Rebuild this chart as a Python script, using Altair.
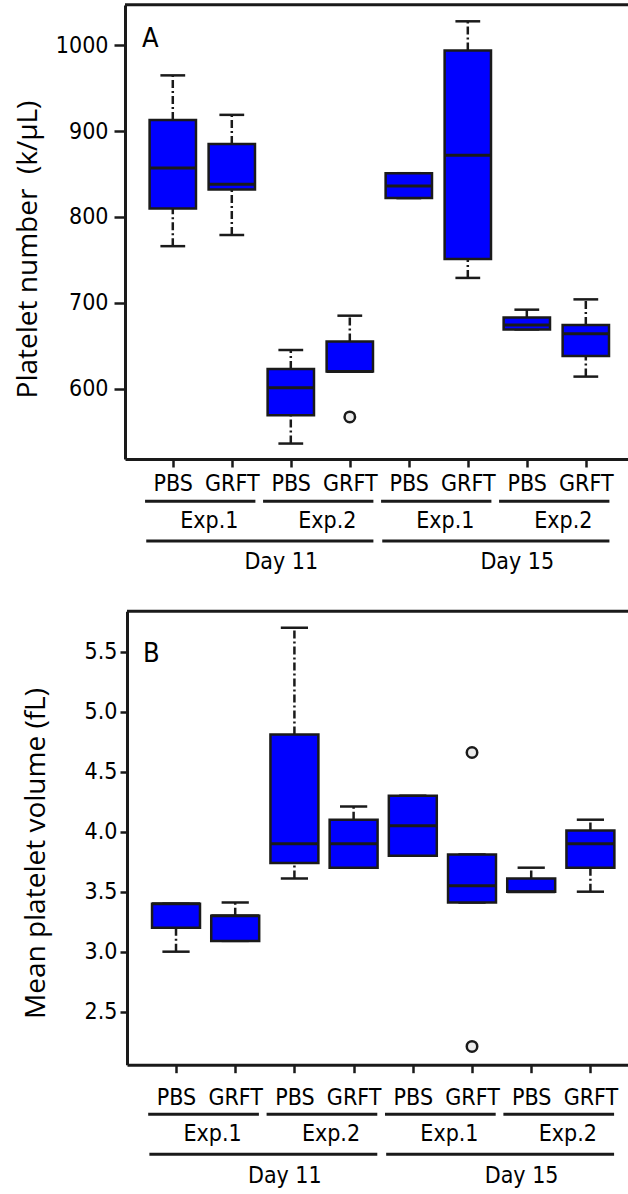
import altair as alt
import pandas as pd

# ---------------- data ----------------
categories = ["PBS", "GRFT", "PBS", "GRFT", "PBS", "GRFT", "PBS", "GRFT"]
experiments = ["Exp.1", "Exp.2", "Exp.1", "Exp.2"]
exp_first = [1, 3, 5, 7]
exp_last = [2, 4, 6, 8]
days = ["Day 11", "Day 15"]
day_first = [1, 5]
day_last = [4, 8]

# Panel A: platelet number (k/uL)
a_low = [766, 779, 536, 620, 822, 729, 669, 614]
a_q1 = [810, 832, 569, 620, 822, 751, 669, 638]
a_med = [857, 838, 601, 620, 836, 872, 674, 664]
a_q3 = [913, 885, 623, 655, 851, 994, 683, 674]
a_high = [965, 919, 645, 685, 851, 1028, 692, 704]
a_out_pos = [4]
a_out_val = [567]
a_ticks = [600, 700, 800, 900, 1000]

# Panel B: mean platelet volume (fL)
b_low = [3.00, 3.09, 3.61, 3.70, 3.80, 3.41, 3.50, 3.50]
b_q1 = [3.20, 3.09, 3.74, 3.70, 3.80, 3.41, 3.50, 3.70]
b_med = [3.40, 3.30, 3.90, 3.90, 4.05, 3.55, 3.50, 3.90]
b_q3 = [3.40, 3.30, 4.81, 4.10, 4.30, 3.81, 3.61, 4.01]
b_high = [3.40, 3.41, 5.70, 4.21, 4.30, 3.81, 3.70, 4.10]
b_out_pos = [6, 6]
b_out_val = [4.66, 2.21]
b_ticks = [2.5, 3.0, 3.5, 4.0, 4.5, 5.0, 5.5]

# ---------------- style ----------------
FONT = "Liberation Sans Narrow, Arial Narrow, DejaVu Sans Condensed, sans-serif"
TITLE_FONT = "Open Sans"
BLUE = "#0000FF"
INK = "#1a1a1a"
W, H = 503, 1194


def panel(low, q1, med, q3, high, out_pos, out_val, letter, ytitle, ticks, fmt,
          xdom, xrange, ydom, yrange, g):
    idx = list(range(1, len(categories) + 1))
    box = pd.DataFrame(dict(idx=idx, low=low, q1=q1, med=med, q3=q3, high=high))
    outl = pd.DataFrame(dict(idx=out_pos, val=out_val))
    expdf = pd.DataFrame(dict(label=experiments, first=exp_first, last=exp_last))
    daydf = pd.DataFrame(dict(label=days, first=day_first, last=day_last))
    letdf = pd.DataFrame(dict(letter=[letter]))

    label_expr = "[" + ",".join(f"'{c}'" for c in categories) + "][datum.value - 1]"
    xs = alt.Scale(domain=xdom, range=xrange, nice=False, zero=False)
    ys = alt.Scale(domain=ydom, range=yrange, nice=False, zero=False)
    xax = alt.Axis(orient="bottom", values=idx, labelExpr=label_expr, title=None, grid=False,
                   domainWidth=3, domainColor=INK, tickColor=INK, tickWidth=2.5, tickSize=8,
                   labelFont=FONT, labelFontSize=23, labelColor="black",
                   labelBaseline="alphabetic", labelPadding=g["xlabpad"], offset=g["xoff"],
                   labelFlush=False, labelOverlap=False)
    yax = alt.Axis(orient="left", values=ticks, format=fmt, title=ytitle, titleFont=TITLE_FONT,
                   titleFontSize=28, titleFontWeight="normal", titleColor="black",
                   titleAngle=270, titleBaseline="alphabetic", titleAlign="center",
                   titleX=g["tx"], titleY=g["ty"], grid=False,
                   domainWidth=3, domainColor=INK, tickColor=INK, tickWidth=2.5,
                   tickSize=g["ytick"], labelFont=FONT, labelFontSize=23, labelColor="black",
                   labelPadding=g["ylabpad"], offset=g["yoff"], labelFlush=False,
                   labelOverlap=False)

    def X(f):
        return alt.X(f + ":Q", scale=xs, axis=xax)

    def Y(f):
        return alt.Y(f + ":Q", scale=ys, axis=yax)

    hw, chw = g["hw"], g["chw"]
    base = alt.Chart(box).transform_calculate(
        left=f"datum.idx - {hw}", right=f"datum.idx + {hw}",
        cl=f"datum.idx - {chw}", cr=f"datum.idx + {chw}")

    dash = [8, 3, 2, 3]
    whisk_hi = base.mark_rule(color=INK, strokeWidth=2.5, strokeDash=dash).encode(
        x=X("idx"), y=Y("q3"), y2="high")
    whisk_lo = base.mark_rule(color=INK, strokeWidth=2.5, strokeDash=dash).encode(
        x=X("idx"), y=Y("low"), y2="q1")
    cap_hi = base.mark_rule(color=INK, strokeWidth=2.5).encode(x=X("cl"), x2="cr", y=Y("high"))
    cap_lo = base.mark_rule(color=INK, strokeWidth=2.5).encode(x=X("cl"), x2="cr", y=Y("low"))
    boxes = base.mark_rect(fill=BLUE, stroke=INK, strokeWidth=2.5).encode(
        x=X("left"), x2="right", y=Y("q1"), y2="q3")
    medians = base.mark_rule(color=INK, strokeWidth=3).encode(
        x=X("left"), x2="right", y=Y("med"))
    outliers = alt.Chart(outl).mark_circle(fill="#ececec", stroke=INK, strokeWidth=2.5,
                                           size=110, opacity=1).encode(x=X("idx"), y=Y("val"))

    exp_lines = alt.Chart(expdf).transform_calculate(
        s="datum.first - 0.47", e="datum.last + 0.4").mark_rule(
        color=INK, strokeWidth=3).encode(x=X("s"), x2="e", y=alt.value(g["exp_line"]))
    exp_text = alt.Chart(expdf).transform_calculate(
        m="(datum.first + datum.last) / 2").mark_text(
        font=FONT, fontSize=23, baseline="alphabetic", align="center", dx=7,
        color="black").encode(x=X("m"), y=alt.value(g["exp_text"]), text="label:N")
    day_lines = alt.Chart(daydf).transform_calculate(
        s="datum.first - 0.45", e="datum.last + 0.4").mark_rule(
        color=INK, strokeWidth=3).encode(x=X("s"), x2="e", y=alt.value(g["day_line"]))
    day_text = alt.Chart(daydf).transform_calculate(
        m="(datum.first + datum.last) / 2").mark_text(
        font=FONT, fontSize=23, baseline="alphabetic", align="center", dx=20,
        color="black").encode(x=X("m"), y=alt.value(g["day_text"]), text="label:N")

    frame_top = alt.Chart(letdf).mark_rule(color=INK, strokeWidth=3).encode(
        x=alt.value(g["x0"]), x2=alt.value(W), y=alt.value(g["top"]))
    letter_mark = alt.Chart(letdf).mark_text(
        font=FONT, fontSize=27, align="left", baseline="alphabetic", color="black").encode(
        x=alt.value(g["lx"]), y=alt.value(g["ly"]), text="letter:N")

    return alt.layer(whisk_hi, whisk_lo, cap_hi, cap_lo, boxes, medians, outliers,
                     exp_lines, exp_text, day_lines, day_text, frame_top, letter_mark)


gA = dict(xlabpad=23.7, xoff=459 - H, tx=-88.3, ty=249, ytick=11, ylabpad=6, yoff=0,
          hw=0.393, chw=0.21, exp_line=501.3, exp_text=528.3, day_line=541,
          day_text=569.3, x0=0, top=4.7, lx=17, ly=46.7)
gB = dict(xlabpad=31.3, xoff=1064.7 - H, tx=-83, ty=853, ytick=7, ylabpad=3, yoff=-2,
          hw=0.405, chw=0.23, exp_line=1114.3, exp_text=1140.7, day_line=1154.3,
          day_text=1183.3, x0=2, top=611.3, lx=18, ly=661.7)

panelA = panel(a_low, a_q1, a_med, a_q3, a_high, a_out_pos, a_out_val, "A",
               "Platelet number\u00a0 (k/\u00b5L)", a_ticks, "d",
               [0.19, 8.715], [0, W], [518, 1047], [459, 5], gA)
panelB = panel(b_low, b_q1, b_med, b_q3, b_high, b_out_pos, b_out_val, "B",
               "Mean platelet volume (fL)", b_ticks, ".1f",
               [0.172, 8.635], [2, W], [2.058, 5.837], [1064.7, 611.3], gB)

chart = alt.layer(panelA, panelB).resolve_scale(
    x="independent", y="independent").properties(
    width=W, height=H,
    autosize=alt.AutoSizeParams(type="none"),
    padding={"left": 125, "top": 0, "right": 0, "bottom": 0},
    background="white",
).configure_view(stroke=None)

chart.save("out.html", embed_options={"renderer": "svg", "actions": False})
